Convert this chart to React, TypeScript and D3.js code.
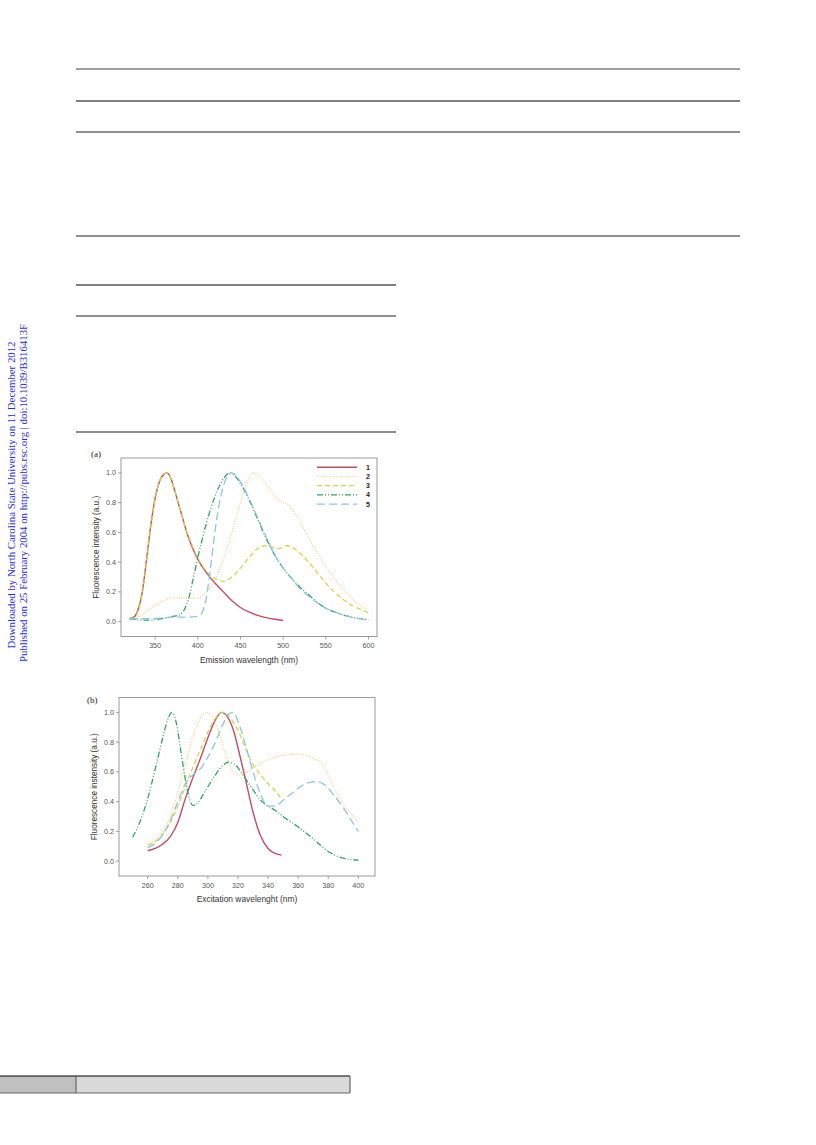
import React from "react";
import * as d3 from "d3";

type Pt = [number, number];

// ---- data ----
const emissionTicks = [350, 400, 450, 500, 550, 600];
const excitationTicks = [260, 280, 300, 320, 340, 360, 380, 400];
const intensityTicks = [0, 0.2, 0.4, 0.6, 0.8, 1.0];
const seriesNames = ["1", "2", "3", "4", "5"];

// (a) emission spectra
const em1: Pt[] = [[320,0.02],[325,0.03],[330,0.08],[335,0.2],[340,0.42],[345,0.65],[350,0.83],[355,0.94],[360,0.99],[364,1.0],[368,0.97],[372,0.9],[376,0.82],[380,0.74],[385,0.64],[390,0.55],[395,0.48],[400,0.42],[410,0.33],[420,0.26],[430,0.2],[440,0.14],[450,0.095],[460,0.065],[470,0.042],[480,0.027],[490,0.016],[500,0.008]];
const em2: Pt[] = [[320,0.01],[330,0.03],[340,0.07],[350,0.11],[360,0.14],[370,0.16],[380,0.16],[390,0.155],[400,0.16],[410,0.2],[420,0.28],[430,0.42],[440,0.6],[450,0.8],[458,0.94],[465,1.0],[472,0.98],[480,0.92],[490,0.84],[500,0.8],[505,0.79],[510,0.76],[520,0.67],[530,0.56],[540,0.46],[550,0.37],[560,0.29],[570,0.22],[580,0.16],[590,0.11],[600,0.08]];
const em3: Pt[] = [[320,0.02],[325,0.025],[330,0.07],[335,0.19],[340,0.41],[345,0.64],[350,0.82],[355,0.94],[360,0.99],[364,1.0],[368,0.97],[372,0.9],[376,0.82],[380,0.74],[385,0.64],[390,0.56],[395,0.49],[400,0.43],[405,0.38],[410,0.34],[420,0.29],[430,0.27],[440,0.3],[450,0.36],[460,0.43],[470,0.49],[480,0.51],[487,0.5],[493,0.49],[500,0.5],[505,0.51],[510,0.5],[520,0.46],[530,0.4],[540,0.33],[550,0.26],[560,0.2],[570,0.15],[580,0.11],[590,0.085],[600,0.06]];
const em4: Pt[] = [[320,0.02],[330,0.012],[340,0.01],[350,0.014],[360,0.022],[370,0.035],[378,0.045],[385,0.09],[390,0.17],[395,0.3],[400,0.43],[405,0.55],[410,0.66],[420,0.84],[430,0.96],[437,1.0],[445,0.97],[450,0.93],[460,0.82],[470,0.69],[480,0.56],[490,0.45],[500,0.36],[510,0.29],[520,0.23],[530,0.18],[540,0.13],[550,0.09],[560,0.065],[570,0.045],[580,0.03],[590,0.02],[600,0.012]];
const em5: Pt[] = [[320,0.02],[330,0.02],[340,0.02],[350,0.02],[360,0.025],[370,0.03],[380,0.03],[390,0.03],[400,0.035],[405,0.06],[410,0.16],[415,0.37],[420,0.6],[425,0.79],[430,0.91],[435,0.98],[440,1.0],[445,0.98],[450,0.94],[460,0.83],[470,0.7],[480,0.57],[490,0.45],[500,0.36],[510,0.29],[520,0.22],[530,0.17],[540,0.125],[550,0.09],[560,0.065],[570,0.045],[580,0.03],[590,0.02],[600,0.012]];

// (b) excitation spectra
const ex1: Pt[] = [[260,0.07],[265,0.085],[270,0.115],[275,0.165],[280,0.26],[285,0.42],[290,0.56],[295,0.69],[300,0.83],[305,0.95],[309,1.0],[313,0.97],[317,0.88],[321,0.72],[325,0.55],[330,0.33],[335,0.17],[340,0.085],[345,0.05],[349,0.04]];
const ex2: Pt[] = [[260,0.12],[265,0.14],[270,0.2],[275,0.3],[280,0.46],[285,0.65],[290,0.83],[295,0.96],[299,1.0],[303,0.97],[307,0.88],[311,0.74],[315,0.63],[320,0.58],[325,0.59],[330,0.63],[340,0.68],[350,0.71],[358,0.72],[365,0.71],[370,0.69],[375,0.67],[380,0.58],[385,0.47],[390,0.39],[395,0.32],[400,0.26]];
const ex3: Pt[] = [[260,0.11],[265,0.13],[270,0.18],[275,0.26],[280,0.37],[285,0.5],[290,0.63],[295,0.75],[300,0.87],[305,0.96],[310,1.0],[315,0.96],[320,0.88],[325,0.76],[330,0.65],[335,0.58],[340,0.52],[345,0.47],[348,0.43]];
const ex4: Pt[] = [[250,0.16],[255,0.27],[260,0.42],[265,0.62],[270,0.83],[274,0.97],[276,1.0],[279,0.93],[282,0.74],[285,0.55],[288,0.41],[290,0.375],[293,0.39],[297,0.45],[300,0.5],[305,0.58],[310,0.645],[314,0.665],[318,0.65],[322,0.6],[326,0.54],[330,0.48],[335,0.41],[340,0.37],[345,0.34],[350,0.3],[360,0.23],[370,0.15],[380,0.065],[390,0.02],[400,0.007]];
const ex5: Pt[] = [[260,0.09],[265,0.12],[270,0.18],[275,0.27],[280,0.4],[285,0.52],[290,0.58],[295,0.62],[300,0.7],[305,0.8],[310,0.92],[314,0.99],[317,1.0],[320,0.94],[325,0.78],[330,0.6],[335,0.45],[340,0.37],[345,0.37],[350,0.41],[355,0.45],[360,0.49],[366,0.525],[372,0.535],[378,0.51],[384,0.44],[390,0.36],[395,0.28],[400,0.2]];

const emissionSeries = [em1, em2, em3, em4, em5];
const excitationSeries = [ex1, ex2, ex3, ex4, ex5];

const seriesStyles = [
  { color: "#c24d66", dash: "", width: 1.4 },
  { color: "#f8cc8a", dash: "1,1.4", width: 1.2 },
  { color: "#cddb4a", dash: "5,3", width: 1.3 },
  { color: "#34a06c", dash: "6,2,1,2,1,2", width: 1.3 },
  { color: "#8dc6da", dash: "8,4", width: 1.3 },
];

const SANS = "'Liberation Sans', Arial, sans-serif";
const SERIF = "'Liberation Serif', 'Times New Roman', serif";

interface PanelProps {
  left: number; right: number; top: number; bottom: number;
  xDomain: [number, number];
  xTicks: number[];
  series: Pt[][];
  tag: string; tagX: number; tagY: number;
  xTitle: string; yTitle: string;
  legend?: boolean;
}

function Panel(p: PanelProps) {
  const x = d3.scaleLinear().domain(p.xDomain).range([p.left, p.right]);
  const y = d3.scaleLinear().domain([-0.1, 1.1]).range([p.bottom, p.top]);
  const line = d3.line<Pt>().x(d => x(d[0])).y(d => y(d[1])).curve(d3.curveMonotoneX);
  const fmt = d3.format(".1f");
  const cx = (p.left + p.right) / 2;
  const cy = (p.top + p.bottom) / 2;
  return (
    <g>
      <text x={p.tagX} y={p.tagY} fontFamily={SERIF} fontSize={9} fill="#222">{p.tag}</text>
      <rect x={p.left} y={p.top} width={p.right - p.left} height={p.bottom - p.top} fill="none" stroke="#9a9a9a" strokeWidth={1} />
      {intensityTicks.map(t => (
        <g key={"y" + t}>
          <line x1={p.left - 3} x2={p.left} y1={y(t)} y2={y(t)} stroke="#8a8a8a" strokeWidth={0.8} />
          <text x={p.left - 5} y={y(t)} dy="0.35em" textAnchor="end" fontFamily={SANS} fontSize={7.2} fill="#555">{fmt(t)}</text>
        </g>
      ))}
      {p.xTicks.map(t => (
        <g key={"x" + t}>
          <line x1={x(t)} x2={x(t)} y1={p.bottom} y2={p.bottom + 3} stroke="#8a8a8a" strokeWidth={0.8} />
          <text x={x(t)} y={p.bottom + 11.5} textAnchor="middle" fontFamily={SANS} fontSize={7.2} fill="#555">{t}</text>
        </g>
      ))}
      <text x={cx} y={p.bottom + 26} textAnchor="middle" fontFamily={SANS} fontSize={8.4} fill="#333">{p.xTitle}</text>
      <text transform={`translate(${p.left - 22},${cy}) rotate(-90)`} textAnchor="middle" fontFamily={SANS} fontSize={8.2} fill="#333">{p.yTitle}</text>
      {p.series.map((s, i) => (
        <path key={"s" + i} d={line(s) || ""} fill="none" stroke={seriesStyles[i].color}
          strokeWidth={seriesStyles[i].width} strokeDasharray={seriesStyles[i].dash || undefined} />
      ))}
      {p.legend && seriesNames.map((n, i) => {
        const ly = 467.3 + i * 9.2;
        return (
          <g key={"l" + n}>
            <line x1={317} x2={357} y1={ly} y2={ly} stroke={seriesStyles[i].color}
              strokeWidth={seriesStyles[i].width} strokeDasharray={seriesStyles[i].dash || undefined} />
            <text x={366} y={ly} dy="0.35em" fontFamily={SANS} fontSize={7} fontWeight="bold" fill="#222">{n}</text>
          </g>
        );
      })}
    </g>
  );
}

export default function App() {
  return (
    <svg width={816} height={1145} style={{ position: "absolute", left: 0, top: 0, background: "#fff" }}>
      <rect x={0} y={0} width={816} height={1145} fill="#fff" />
      {/* table rules */}
      <line x1={76} x2={740} y1={69} y2={69} stroke="#808080" strokeWidth={1.6} />
      <line x1={76} x2={740} y1={101} y2={101} stroke="#000" strokeWidth={1} />
      <line x1={76} x2={740} y1={132} y2={132} stroke="#6a6a6a" strokeWidth={1.6} />
      <line x1={76} x2={740} y1={236} y2={236} stroke="#6a6a6a" strokeWidth={1.6} />
      <line x1={76} x2={396} y1={285} y2={285} stroke="#000" strokeWidth={1} />
      <line x1={76} x2={396} y1={316} y2={316} stroke="#6a6a6a" strokeWidth={1.6} />
      <line x1={76} x2={396} y1={432} y2={432} stroke="#6a6a6a" strokeWidth={1.6} />

      {/* side watermark */}
      <text transform="translate(14.5,495) rotate(-90)" textAnchor="middle" fontFamily={SERIF} fontSize={10.8} fill="#2b2bd6">
        Downloaded by North Carolina State University on 11 December 2012
      </text>
      <text transform="translate(26.5,493) rotate(-90)" textAnchor="middle" fontFamily={SERIF} fontSize={10.8} fill="#2b2bd6">
        Published on 25 February 2004 on http://pubs.rsc.org | doi:10.1039/B316413F
      </text>

      <Panel left={121} right={377} top={458} bottom={636.5} xDomain={[310, 610]} xTicks={emissionTicks}
        series={emissionSeries} tag="(a)" tagX={91} tagY={457}
        xTitle="Emission wavelength (nm)" yTitle="Fluorescence intensity (a.u.)" legend />
      <Panel left={119} right={375} top={697.5} bottom={876} xDomain={[240.9, 411.1]} xTicks={excitationTicks}
        series={excitationSeries} tag="(b)" tagX={87} tagY={703}
        xTitle="Excitation wavelenght (nm)" yTitle="Fluorescence instensity (a.u.)" />

      {/* bottom bar */}
      <rect x={0} y={1076} width={76} height={17} fill="#c0c0c0" />
      <rect x={76} y={1076} width={274} height={17} fill="#d9d9d9" />
      <line x1={0} x2={350} y1={1076} y2={1076} stroke="#000" strokeWidth={1} />
      <line x1={0} x2={350} y1={1093} y2={1093} stroke="#666" strokeWidth={1.2} />
      <line x1={76} x2={76} y1={1076} y2={1093} stroke="#555" strokeWidth={1} />
      <line x1={350} x2={350} y1={1076} y2={1093} stroke="#666" strokeWidth={1.2} />
    </svg>
  );
}
